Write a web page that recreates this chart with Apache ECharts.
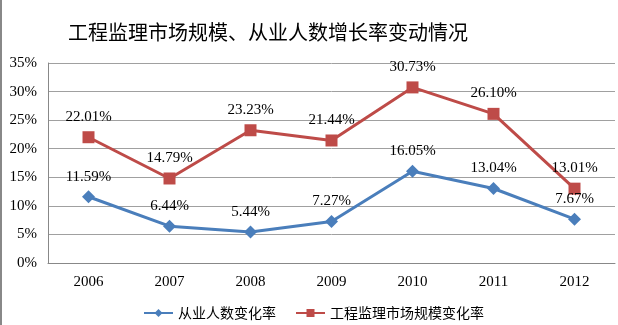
<!DOCTYPE html>
<html><head><meta charset="utf-8">
<script src="https://cdn.jsdelivr.net/npm/echarts@6/dist/echarts.min.js"></script>
<style>html,body{margin:0;padding:0;background:#fff}#c{width:618px;height:325px}</style>
</head><body><div id="c"></div>
<script>
var title = '工程监理市场规模、从业人数增长率变动情况';
var years = ['2006','2007','2008','2009','2010','2011','2012'];
var staffName = '从业人数变化率';
var staffRate = [11.59, 6.44, 5.44, 7.27, 16.05, 13.04, 7.67];
var marketName = '工程监理市场规模变化率';
var marketRate = [22.01, 14.79, 23.23, 21.44, 30.73, 26.10, 13.01];

var chart = echarts.init(document.getElementById('c'));
var serif = '"Liberation Serif","Times New Roman",serif';
var cjk = '"Noto Sans CJK SC","Noto Sans",sans-serif';
chart.setOption({
  animation: false,
  title: { text: title, left: 63, top: 17, textStyle: { fontFamily: cjk, fontSize: 20, fontWeight: 'normal', color: '#000' } },
  graphic: [{ type: 'line', shape: { x1: 1, y1: 0, x2: 1, y2: 325 }, style: { stroke: '#888', lineWidth: 2 } }],
  legend: {
    left: 138, top: 301, itemWidth: 29, itemHeight: 10, itemGap: 19,
    textStyle: { fontFamily: cjk, fontSize: 14, color: '#000' },
    data: [staffName, marketName]
  },
  grid: { left: 48, right: 3, top: 63, bottom: 62 },
  xAxis: {
    type: 'category', data: years, boundaryGap: true,
    axisLine: { lineStyle: { color: '#888' } }, axisTick: { show: false },
    axisLabel: { fontFamily: serif, fontSize: 15, color: '#000', margin: 12 }
  },
  yAxis: {
    type: 'value', min: 0, max: 35, interval: 5,
    axisLine: { show: true, lineStyle: { color: '#888' } }, axisTick: { show: false },
    splitLine: { lineStyle: { color: '#a0a0a0' } },
    axisLabel: { fontFamily: serif, fontSize: 15, color: '#000', margin: 11, formatter: '{value}%' }
  },
  series: [
    { name: staffName, type: 'line', data: staffRate, symbol: 'diamond', symbolSize: 13,
      itemStyle: { color: '#4A7EBB' }, lineStyle: { width: 3, color: '#4A7EBB' },
      label: { show: true, position: 'top', distance: 6, fontFamily: serif, fontSize: 15, color: '#000', formatter: function(p){ return p.value.toFixed(2) + '%'; } } },
    { name: marketName, type: 'line', data: marketRate, symbol: 'rect', symbolSize: 12,
      itemStyle: { color: '#BE4B48' }, lineStyle: { width: 3, color: '#BE4B48' },
      label: { show: true, position: 'top', distance: 7, fontFamily: serif, fontSize: 15, color: '#000', formatter: function(p){ return p.value.toFixed(2) + '%'; } } }
  ]
});
</script></body></html>
